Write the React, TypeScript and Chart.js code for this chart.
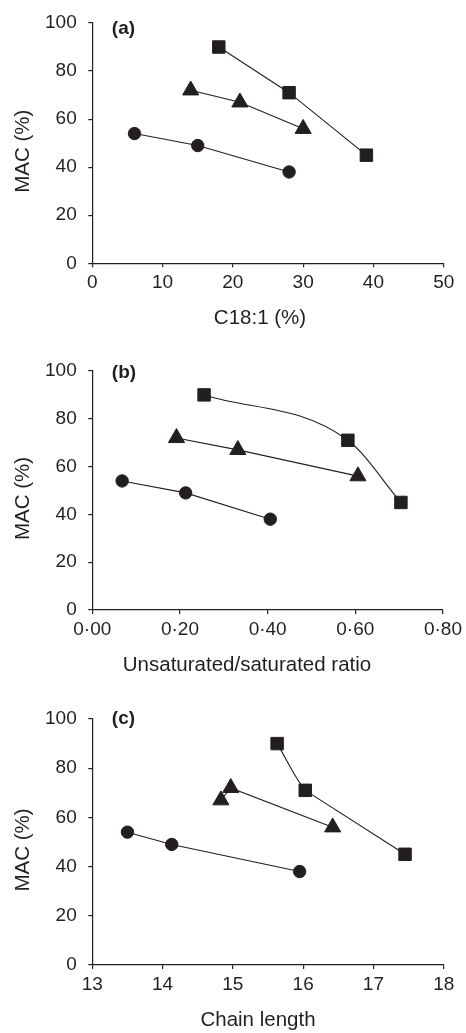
import React, { useEffect, useRef } from "react";
import { Chart, registerables } from "chart.js";

Chart.register(...registerables);

const INK = "#231f20";
const FONT = "'Liberation Sans', Arial, Helvetica, sans-serif";

// MAC (%) of the three groups (circle, triangle, square)
const macCircle = [54, 49, 38];
const macTriangle = [72, 67, 56];
const macSquare = [90, 71, 45];

// (a) C18:1 (%)
const c181Circle = [6, 15, 28];
const c181Triangle = [14, 21, 30];
const c181Square = [18, 28, 39];

// (b) Unsaturated/saturated ratio
const ratioCircle = [0.068, 0.213, 0.406];
const ratioTriangle = [0.192, 0.332, 0.606];
const ratioSquare = [0.255, 0.583, 0.704];

// (c) Chain length
const chainCircle = [13.5, 14.13, 15.95];
const chainTriangle = [14.97, 14.83, 16.42];
const chainSquare = [15.63, 16.03, 17.45];

// tick labels
const macTicks = [0, 20, 40, 60, 80, 100];
const c181Ticks = [0, 10, 20, 30, 40, 50];
const ratioTicks = [0, 0.2, 0.4, 0.6, 0.8];
const chainTicks = [13, 14, 15, 16, 17, 18];

type PanelDef = {
  label: string;
  xTitle: string;
  circle: number[];
  triangle: number[];
  square: number[];
  xTicks: number[];
  fmt: (v: number) => string;
  squareMode: "straight" | "curved" | "curvedHead";
  height: number;
  padTop: number;
  padBottom: number;
  xTitleX: number;
  labelDy: number;
};

const panels: PanelDef[] = [
  {
    label: "(a)",
    xTitle: "C18:1 (%)",
    circle: c181Circle,
    triangle: c181Triangle,
    square: c181Square,
    xTicks: c181Ticks,
    fmt: (v) => String(v),
    squareMode: "straight",
    height: 340,
    padTop: 20,
    padBottom: 36.7,
    xTitleX: 260,
    labelDy: 6,
  },
  {
    label: "(b)",
    xTitle: "Unsaturated/saturated ratio",
    circle: ratioCircle,
    triangle: ratioTriangle,
    square: ratioSquare,
    xTicks: ratioTicks,
    fmt: (v) => v.toFixed(2).replace(".", "\u00b7"),
    squareMode: "curved",
    height: 340,
    padTop: 31,
    padBottom: 30,
    xTitleX: 247,
    labelDy: 1.5,
  },
  {
    label: "(c)",
    xTitle: "Chain length",
    circle: chainCircle,
    triangle: chainTriangle,
    square: chainSquare,
    xTicks: chainTicks,
    fmt: (v) => String(v),
    squareMode: "curvedHead",
    height: 353,
    padTop: 39,
    padBottom: 28,
    xTitleX: 258,
    labelDy: 0,
  },
];

const pts = (xs: number[], ys: number[]) =>
  xs.map((x, i) => ({ x, y: ys[i] })).sort((a, b) => a.x - b.x);

const textPlugin = {
  id: "panelText",
  afterDraw(chart: any, _args: any, opts: any) {
    const { ctx, chartArea: a } = chart;
    ctx.save();
    ctx.fillStyle = INK;
    ctx.textAlign = "center";
    ctx.textBaseline = "middle";
    ctx.font = `20.5px ${FONT}`;
    ctx.fillText(opts.xTitle, opts.xTitleX, a.bottom + 55.5);
    ctx.translate(23.3, (a.top + a.bottom) / 2 + 8);
    ctx.rotate(-Math.PI / 2);
    ctx.fillText("MAC (%)", 0, 0);
    ctx.restore();
    ctx.save();
    ctx.fillStyle = INK;
    ctx.font = `bold 19px ${FONT}`;
    ctx.textAlign = "left";
    ctx.textBaseline = "middle";
    ctx.fillText(opts.label, a.left + 19.5, a.top + opts.labelDy);
    ctx.restore();
  },
};

function Panel({ p }: { p: PanelDef }) {
  const ref = useRef<HTMLCanvasElement>(null);
  useEffect(() => {
    if (!ref.current) return;
    const base = (data: any[], pointStyle: string, radius: number, curved: boolean) => ({
      type: "line",
      data,
      pointStyle,
      pointRadius: radius,
      pointHoverRadius: radius,
      pointBackgroundColor: INK,
      pointBorderColor: INK,
      pointBorderWidth: 1,
      borderColor: INK,
      borderWidth: 1.1,
      fill: false,
      tension: 0,
      cubicInterpolationMode: curved ? "monotone" : "default",
    });
    const sq = pts(p.square, macSquare);
    const datasets: any[] = [
      base(pts(p.circle, macCircle), "circle", 6.2, false),
      base(pts(p.triangle, macTriangle), "triangle", 9.3, false),
    ];
    if (p.squareMode === "curvedHead") {
      const head: any = base(sq, "rect", 8.8, true);
      head.segment = {
        borderColor: (c: any) => (c.p0DataIndex >= 1 ? "rgba(0,0,0,0)" : INK),
      };
      datasets.push(head);
      const tail: any = base(sq.slice(1), "rect", 0, false);
      tail.pointRadius = 0;
      tail.pointHoverRadius = 0;
      datasets.push(tail);
    } else {
      datasets.push(base(sq, "rect", 8.8, p.squareMode === "curved"));
    }

    const tickFont = { family: FONT, size: 19 };
    const chart = new Chart(ref.current, {
      type: "line",
      data: { datasets },
      options: {
        animation: false,
        responsive: false,
        maintainAspectRatio: false,
        events: [],
        layout: { padding: { left: 8.3, right: 22.3, top: p.padTop, bottom: p.padBottom } },
        plugins: {
          legend: { display: false },
          tooltip: { enabled: false },
          panelText: { xTitle: p.xTitle, xTitleX: p.xTitleX, label: p.label, labelDy: p.labelDy },
        } as any,
        scales: {
          x: {
            type: "linear",
            min: p.xTicks[0],
            max: p.xTicks[p.xTicks.length - 1],
            afterBuildTicks: (s: any) => {
              s.ticks = p.xTicks.map((v) => ({ value: v }));
            },
            afterFit: (s: any) => {
              s.height = 40;
            },
            ticks: {
              color: INK,
              font: tickFont,
              padding: 4,
              maxRotation: 0,
              autoSkip: false,
              callback: (v: any) => p.fmt(Number(v)),
            },
            grid: { drawOnChartArea: false, drawTicks: true, tickLength: 4, color: INK, lineWidth: 1.2 },
            border: { display: true, color: INK, width: 1.2 },
          },
          y: {
            type: "linear",
            min: 0,
            max: 100,
            afterBuildTicks: (s: any) => {
              s.ticks = macTicks.map((v) => ({ value: v }));
            },
            afterFit: (s: any) => {
              s.width = 84;
            },
            ticks: {
              color: INK,
              font: tickFont,
              padding: 11.6,
              autoSkip: false,
              callback: (v: any) => String(v),
            },
            grid: { drawOnChartArea: false, drawTicks: true, tickLength: 4, color: INK, lineWidth: 1.2 },
            border: { display: true, color: INK, width: 1.2 },
          },
        },
      } as any,
      plugins: [textPlugin],
    } as any);
    return () => chart.destroy();
  }, [p]);
  return (
    <canvas
      ref={ref}
      width={466}
      height={p.height}
      style={{ display: "block", width: 466, height: p.height }}
    />
  );
}

export default function App() {
  return (
    <div style={{ position: "absolute", left: 0, top: 0, width: 466, height: 1033, background: "#fff" }}>
      {panels.map((p) => (
        <Panel key={p.label} p={p} />
      ))}
    </div>
  );
}
